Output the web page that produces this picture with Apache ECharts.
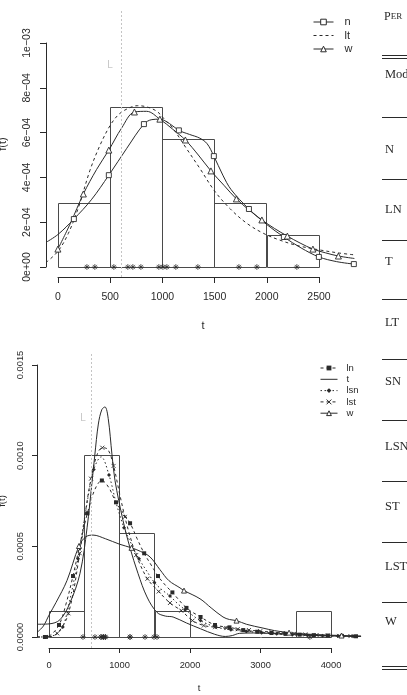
<!DOCTYPE html>
<html><head><meta charset="utf-8">
<script src="https://cdn.jsdelivr.net/npm/echarts@6/dist/echarts.min.js"></script>
<style>html,body{margin:0;padding:0;background:#fff;overflow:hidden}#c{width:407px;height:695px}</style>
</head><body><div id="c"></div>
<script>
// ================= TOP PANEL DATA =================
const topBreaks = [0, 500, 1000, 1500, 2000, 2500];
const topDensity = [2.857e-4, 7.143e-4, 5.714e-4, 2.857e-4, 1.429e-4];
const topRug = [278, 354, 536, 670, 718, 795, 967, 1006, 1044, 1130, 1341, 1734, 1906, 2289];
const topXTicks = [0, 500, 1000, 1500, 2000, 2500];
const topXLabels = ['0', '500', '1000', '1500', '2000', '2500'];
const topYTicks = [0, 2e-4, 4e-4, 6e-4, 8e-4, 1e-3];
const topYLabels = ['0e+00', '2e\u221204', '4e\u221204', '6e\u221204', '8e\u221204', '1e\u221203'];
const topL = 603;
const topLLabel = [500, 9.0e-4];
const topN = [[-114, 1.1e-4], [0, 1.45e-4], [153, 2.14e-4], [320, 3.0e-4], [488, 4.1e-4], [660, 5.3e-4], [824, 6.38e-4], [900, 6.58e-4], [977, 6.6e-4], [1070, 6.4e-4], [1159, 6.1e-4], [1260, 5.92e-4], [1360, 5.75e-4], [1430, 5.5e-4], [1494, 4.95e-4], [1580, 4.1e-4], [1660, 3.45e-4], [1830, 2.59e-4], [2000, 1.9e-4], [2165, 1.34e-4], [2330, 8.5e-5], [2500, 4.5e-5], [2670, 2.4e-5], [2835, 1.3e-5]];
const topNMarks = [153, 488, 824, 1159, 1494, 1830, 2165, 2500, 2835];
const topLt = [[-114, 2e-5], [0, 7e-5], [100, 1.5e-4], [200, 2.7e-4], [306, 4.3e-4], [400, 5.4e-4], [498, 6.3e-4], [580, 6.8e-4], [660, 7.05e-4], [760, 7.2e-4], [850, 7.15e-4], [948, 6.95e-4], [1020, 6.6e-4], [1100, 6.2e-4], [1230, 5.3e-4], [1360, 4.4e-4], [1500, 3.4e-4], [1650, 2.6e-4], [1810, 1.95e-4], [1970, 1.5e-4], [2126, 1.2e-4], [2300, 9.5e-5], [2510, 7.6e-5], [2700, 6.2e-5], [2845, 5.4e-5]];
const topW = [[0, 8e-5], [120, 1.95e-4], [244, 3.26e-4], [370, 4.35e-4], [488, 5.22e-4], [610, 6.2e-4], [733, 6.92e-4], [850, 6.95e-4], [977, 6.6e-4], [1100, 6.15e-4], [1221, 5.67e-4], [1345, 5.0e-4], [1466, 4.29e-4], [1590, 3.65e-4], [1710, 3.04e-4], [1830, 2.55e-4], [1954, 2.1e-4], [2075, 1.72e-4], [2198, 1.38e-4], [2320, 1.07e-4], [2443, 8.0e-5], [2565, 6.3e-5], [2687, 4.9e-5], [2840, 3.8e-5]];
const topWMarks = [0, 244, 488, 733, 977, 1221, 1466, 1710, 1954, 2198, 2443, 2687];

// ================= BOTTOM PANEL DATA =================
const botBreaks = [0, 500, 1000, 1500, 2000, 2500, 3000, 3500, 4000];
const botDensity = [1.43e-4, 1.0e-3, 5.71e-4, 1.43e-4, 0, 0, 0, 1.43e-4];
const botRug = [482, 652, 738, 738, 771, 771, 799, 799, 1149, 1149, 1362, 1489, 1532, 3700];
const botXTicks = [0, 1000, 2000, 3000, 4000];
const botXLabels = ['0', '1000', '2000', '3000', '4000'];
const botYTicks = [0, 5e-4, 1e-3, 1.5e-3];
const botYLabels = ['0.0000', '0.0005', '0.0010', '0.0015'];
const botL = 605;
const botLLabel = [482, 1.2e-3];
const botLn = [[-170, 0], [-58, 0], [0, 4e-6], [142, 6.6e-5], [240, 1.8e-4], [340, 3.35e-4], [440, 5.1e-4], [545, 6.8e-4], [650, 8.1e-4], [750, 8.6e-4], [850, 8.2e-4], [950, 7.4e-4], [1150, 6.25e-4], [1250, 5.4e-4], [1350, 4.6e-4], [1450, 3.95e-4], [1546, 3.35e-4], [1650, 2.85e-4], [1750, 2.45e-4], [1950, 1.6e-4], [2150, 1.1e-4], [2355, 6.6e-5], [2560, 5.3e-5], [2755, 3.8e-5], [2955, 2.9e-5], [3155, 2.2e-5], [3355, 1.7e-5], [3555, 1.3e-5], [3755, 1e-5], [3955, 8e-6], [4155, 6e-6], [4355, 4e-6], [4426, 3.5e-6]];
const botLnMarks = [-58, 142, 340, 545, 750, 950, 1150, 1350, 1546, 1750, 1950, 2150, 2355, 2560, 2755, 2955, 3155, 3355, 3555, 3755, 3955, 4155, 4355];
const botT = [[-170, 7e-5], [0, 7.2e-5], [156, 9.5e-5], [300, 1.9e-4], [440, 3.5e-4], [540, 6.0e-4], [610, 8.5e-4], [650, 1.0e-3], [700, 1.17e-3], [750, 1.25e-3], [794, 1.264e-3], [840, 1.2e-3], [894, 1.0e-3], [936, 8.6e-4], [1050, 6.4e-4], [1149, 4.9e-4], [1262, 3.5e-4], [1390, 2.2e-4], [1532, 1.35e-4], [1650, 1.15e-4], [1760, 1.1e-4], [1950, 7.7e-5], [2150, 4.5e-5], [2350, 1.5e-5], [2500, 3e-6], [2600, 8e-6], [2700, 2e-5], [2900, 2.2e-5], [3100, 2e-5], [3400, 1.4e-5], [3800, 8e-6], [4426, 3e-6]];
const botLsn = [[-170, 0], [-23, 1e-6], [100, 1.5e-5], [195, 5.5e-5], [300, 2.1e-4], [411, 4.3e-4], [520, 6.9e-4], [635, 9.2e-4], [740, 9.9e-4], [851, 8.9e-4], [950, 7.4e-4], [1064, 6.0e-4], [1170, 5.1e-4], [1277, 4.3e-4], [1390, 3.6e-4], [1495, 3.0e-4], [1600, 2.6e-4], [1716, 2.25e-4], [1820, 1.85e-4], [1930, 1.5e-4], [2150, 9e-5], [2365, 5.5e-5], [2580, 4.0e-5], [2800, 3.0e-5], [3015, 2.4e-5], [3230, 1.8e-5], [3450, 1.3e-5], [3665, 1e-5], [3880, 7e-6], [4100, 5e-6], [4315, 4e-6], [4426, 3.5e-6]];
const botLsnMarks = [-23, 195, 411, 635, 851, 1064, 1277, 1495, 1716, 1930, 2150, 2365, 2580, 2800, 3015, 3230, 3450, 3665, 3880, 4100, 4315];
const botLst = [[-170, 0], [-44, 0], [116, 2e-5], [276, 1.3e-4], [436, 4.6e-4], [530, 7.2e-4], [596, 8.7e-4], [680, 1.0e-3], [756, 1.04e-3], [836, 1.03e-3], [916, 9.4e-4], [1000, 7.9e-4], [1076, 6.6e-4], [1160, 5.4e-4], [1236, 4.5e-4], [1396, 3.2e-4], [1556, 2.5e-4], [1716, 1.87e-4], [1876, 1.45e-4], [2036, 9e-5], [2196, 6.3e-5], [2356, 5.4e-5], [2516, 4.9e-5], [2676, 4.3e-5], [2836, 3.8e-5], [2996, 3.2e-5], [3156, 2.7e-5], [3316, 2.2e-5], [3476, 1.8e-5], [3636, 1.4e-5], [3796, 1.1e-5], [3956, 8e-6], [4116, 6e-6], [4276, 5e-6], [4426, 4e-6]];
const botLstMarks = [-44, 116, 276, 436, 596, 756, 916, 1076, 1236, 1396, 1556, 1716, 1876, 2036, 2196, 2356, 2516, 2676, 2836, 2996, 3156, 3316, 3476, 3636, 3796, 3956, 4116, 4276];
const botW = [[-170, 2.5e-5], [-80, 6e-5], [0, 1.2e-4], [100, 1.9e-4], [255, 3.1e-4], [425, 5.0e-4], [520, 5.5e-4], [624, 5.6e-4], [800, 5.4e-4], [1000, 5.1e-4], [1170, 4.9e-4], [1300, 4.7e-4], [1433, 4.4e-4], [1574, 3.7e-4], [1700, 3.1e-4], [1858, 2.7e-4], [1915, 2.55e-4], [2142, 2.1e-4], [2300, 1.6e-4], [2468, 1.1e-4], [2560, 9.6e-5], [2660, 9e-5], [2800, 7e-5], [3035, 4.9e-5], [3200, 3.5e-5], [3405, 2.4e-5], [3700, 1.5e-5], [4150, 8e-6], [4426, 5e-6]];
const botWMarks = [425, 1170, 1915, 2660, 3405, 4150];

// ================= TABLE TEXT (cropped neighbour) =================
const tableHeader = 'PER';
const tableRows = ['Model', 'N', 'LN', 'T', 'LT', 'SN', 'LSN', 'ST', 'LST', 'W'];

// ================= BUILD =================
const INK = '#2a2a2a';
const SANS = 'Liberation Sans, Arial, sans-serif';
const SERIF = 'Liberation Serif, Times New Roman, serif';
const ASTER = 'path://M5,0L5,10M0,5L10,5M1.5,1.5L8.5,8.5M1.5,8.5L8.5,1.5';
const CROSS = 'path://M0,0L10,10M0,10L10,0';

function curveData(pts, marks) {
  const s = new Set(marks || []);
  return pts.map(p => s.has(p[0]) ? { value: p } : { value: p, symbol: 'none' });
}
function histData(b, d) { return d.map((v, i) => [b[i], b[i + 1], v]); }
function labeler(ticks, labels) {
  return v => { let k = 0; ticks.forEach((t, i) => { if (Math.abs(t - v) < Math.abs(ticks[k] - v)) k = i; }); return labels[k]; };
}
function hist(idx, b, d) {
  return {
    type: 'custom', xAxisIndex: idx, yAxisIndex: idx, data: histData(b, d), silent: true, z: 1,
    renderItem(params, api) {
      const p0 = api.coord([api.value(0), 0]);
      const p1 = api.coord([api.value(1), api.value(2)]);
      return { type: 'rect', shape: { x: Math.round(p0[0]) + 0.5, y: Math.round(p1[1]) + 0.5, width: Math.round(p1[0] - p0[0]), height: Math.round(p0[1] - p1[1]) },
        style: { fill: 'none', stroke: '#4a4a4a', lineWidth: 1 } };
    }
  };
}
function line(name, idx, pts, marks, symbol, size, itemStyle, dash) {
  return {
    type: 'line', name, xAxisIndex: idx, yAxisIndex: idx, data: curveData(pts, marks),
    symbol: symbol || 'none', symbolSize: size || 5, showSymbol: true, smooth: 0.35,
    lineStyle: { color: INK, width: 1, type: dash || 'solid' },
    itemStyle: itemStyle || { color: INK }, emphasis: { disabled: true }, z: 3, silent: true
  };
}
function rug(idx, vals, L) {
  return {
    type: 'scatter', xAxisIndex: idx, yAxisIndex: idx, data: vals.map(v => [v, 0]),
    symbol: ASTER, symbolSize: 6, itemStyle: { color: 'none', borderColor: INK, borderWidth: 0.9 }, silent: true, z: 4,
    markLine: { silent: true, symbol: ['none', 'none'], label: { show: false },
      lineStyle: { color: '#c4c4c4', type: [2, 2], width: 1 }, data: [{ xAxis: L }] }
  };
}
function lLabel(idx, pos) {
  return { type: 'scatter', xAxisIndex: idx, yAxisIndex: idx, data: [pos], symbolSize: 1,
    itemStyle: { color: 'transparent' }, silent: true,
    label: { show: true, position: 'inside', formatter: 'L', color: '#b8b8b8', fontSize: 10, fontFamily: SANS } };
}
function hiddenAxis(grid, min, max) { return { gridIndex: grid, type: 'value', show: false, min, max }; }
function bareAxis(grid, min, max) {
  return { gridIndex: grid, type: 'value', min, max, axisLine: { show: false }, axisTick: { show: false }, axisLabel: { show: false }, splitLine: { show: false } };
}

const openSq = { color: '#fff', borderColor: INK, borderWidth: 0.9 };

const option = {
  animation: false,
  backgroundColor: '#fff',
  grid: [
    { left: 46, top: 11, width: 314, height: 266, outerBoundsMode: 'none' },
    { left: 58, top: 272, width: 261, height: 5, outerBoundsMode: 'none' },
    { left: 46, top: 43, width: 5, height: 224, outerBoundsMode: 'none' },
    { left: 37, top: 354, width: 324, height: 294, outerBoundsMode: 'none' },
    { left: 49, top: 643, width: 282, height: 5, outerBoundsMode: 'none' },
    { left: 37, top: 365, width: 5, height: 272, outerBoundsMode: 'none' }
  ],
  xAxis: [
    bareAxis(0, -114, 2894),
    { gridIndex: 1, type: 'value', min: topXTicks[0], max: topXTicks[topXTicks.length - 1], interval: topXTicks[1] - topXTicks[0],
      axisLine: { show: true, onZero: false, lineStyle: { color: INK, width: 1 } }, axisTick: { show: true, length: 6, lineStyle: { color: INK } },
      axisLabel: { margin: 15, fontFamily: SANS, fontSize: 10.5, color: INK, formatter: labeler(topXTicks, topXLabels) }, splitLine: { show: false } },
    hiddenAxis(2, 0, 1),
    bareAxis(3, -170.2, 4425.5),
    { gridIndex: 4, type: 'value', min: botXTicks[0], max: botXTicks[botXTicks.length - 1], interval: botXTicks[1] - botXTicks[0],
      axisLine: { show: true, onZero: false, lineStyle: { color: INK, width: 1 } }, axisTick: { show: true, length: 5, lineStyle: { color: INK } },
      axisLabel: { margin: 13, fontFamily: SANS, fontSize: 9.3, color: INK, formatter: labeler(botXTicks, botXLabels) }, splitLine: { show: false } },
    hiddenAxis(5, 0, 1)
  ],
  yAxis: [
    bareAxis(0, -4.464e-5, 1.1429e-3),
    hiddenAxis(1, 0, 1),
    { gridIndex: 2, type: 'value', position: 'left', min: topYTicks[0], max: topYTicks[topYTicks.length - 1], interval: topYTicks[1] - topYTicks[0],
      axisLine: { show: true, onZero: false, lineStyle: { color: INK, width: 1 } }, axisTick: { show: true, inside: false, length: 6, lineStyle: { color: INK } },
      axisLabel: { rotate: 90, margin: 13, fontFamily: SANS, fontSize: 10.5, color: INK, formatter: labeler(topYTicks, topYLabels) }, splitLine: { show: false } },
    bareAxis(3, -6.044e-5, 1.555e-3),
    hiddenAxis(4, 0, 1),
    { gridIndex: 5, type: 'value', position: 'left', min: botYTicks[0], max: botYTicks[botYTicks.length - 1], interval: botYTicks[1] - botYTicks[0],
      axisLine: { show: true, onZero: false, lineStyle: { color: INK, width: 1 } }, axisTick: { show: true, length: 5, lineStyle: { color: INK } },
      axisLabel: { rotate: 90, margin: 12, fontFamily: SANS, fontSize: 9.3, color: INK, formatter: labeler(botYTicks, botYLabels) }, splitLine: { show: false } }
  ],
  legend: [
    { data: [{ name: 'n' }, { name: 'lt', itemStyle: { opacity: 0 } }, { name: 'w' }],
      orient: 'vertical', left: 313, top: 16, padding: 0, itemWidth: 20, itemHeight: 7, itemGap: 1.5, selectedMode: false,
      itemStyle: { borderWidth: 1 }, lineStyle: { width: 1 },
      textStyle: { fontFamily: SANS, fontSize: 11, color: INK, lineHeight: 12, padding: [0, 0, 0, 6] } },
    { data: [{ name: 'ln' }, { name: 't', itemStyle: { opacity: 0 } }, { name: 'lsn' }, { name: 'lst' }, { name: 'w2' }],
      orient: 'vertical', left: 320, top: 363, padding: 0, itemWidth: 17, itemHeight: 6, itemGap: 1.3, selectedMode: false,
      itemStyle: { borderWidth: 1 }, lineStyle: { width: 1 }, formatter: n => n.replace('2', ''),
      textStyle: { fontFamily: SANS, fontSize: 9.5, color: INK, lineHeight: 10, padding: [0, 0, 0, 4] } }
  ],
  series: [
    hist(0, topBreaks, topDensity),
    rug(0, topRug, topL),
    lLabel(0, topLLabel),
    line('n', 0, topN, topNMarks, 'rect', 5, openSq),
    line('lt', 0, topLt, [], 'none', 5, { color: INK }, [3, 3]),
    line('w', 0, topW, topWMarks, 'triangle', 6, openSq),

    hist(3, botBreaks, botDensity),
    rug(3, botRug, botL),
    lLabel(3, botLLabel),
    line('ln', 3, botLn, botLnMarks, 'rect', 4, { color: INK }, [3, 3]),
    line('t', 3, botT, [], 'none', 4, { color: INK }),
    line('lsn', 3, botLsn, botLsnMarks, 'diamond', 4, { color: INK }, [1.5, 2.5]),
    line('lst', 3, botLst, botLstMarks, CROSS, 4, { color: 'none', borderColor: INK, borderWidth: 0.9 }, [3, 3]),
    line('w2', 3, botW, botWMarks, 'triangle', 5, openSq)
  ],
  graphic: { elements: [] }
};

const G = option.graphic.elements;
// axis titles
G.push({ type: 'text', x: 203, y: 326, style: { text: 't', fontFamily: SANS, fontSize: 11, fill: INK, align: 'center', verticalAlign: 'middle' } });
G.push({ type: 'text', x: 199, y: 688, style: { text: 't', fontFamily: SANS, fontSize: 9.5, fill: INK, align: 'center', verticalAlign: 'middle' } });
G.push({ type: 'text', x: 3, y: 144, rotation: Math.PI / 2, style: { text: 'f(t)', fontFamily: SANS, fontSize: 11, fill: INK, align: 'center', verticalAlign: 'middle' } });
G.push({ type: 'text', x: 2, y: 501, rotation: Math.PI / 2, style: { text: 'f(t)', fontFamily: SANS, fontSize: 9.5, fill: INK, align: 'center', verticalAlign: 'middle' } });

// table text on the right (cropped neighbouring table)
const tRowY = [75, 150, 210, 262, 323, 382, 447, 507, 567, 622];
const tRuleY = [117, 179, 240, 299, 359, 420, 481, 542, 602];
G.push({ type: 'text', x: 384, y: 17, style: { text: '{a|' + tableHeader[0] + '}{b|' + tableHeader.slice(1) + '}', verticalAlign: 'middle', rich: { a: { fontFamily: SERIF, fontSize: 12, fill: INK }, b: { fontFamily: SERIF, fontSize: 9, fill: INK } } } });
[55, 58, 666, 669].forEach(y => G.push({ type: 'line', shape: { x1: 382, y1: y + 0.5, x2: 407, y2: y + 0.5 }, style: { stroke: INK, lineWidth: 1 } }));
tRuleY.forEach(y => G.push({ type: 'line', shape: { x1: 382, y1: y + 0.5, x2: 407, y2: y + 0.5 }, style: { stroke: INK, lineWidth: 1 } }));
tableRows.forEach((s, i) => G.push({ type: 'text', x: 385, y: tRowY[i], style: { text: s, fontFamily: SERIF, fontSize: 12.5, fill: INK, verticalAlign: 'middle' } }));

const chart = echarts.init(document.getElementById('c'), null, { renderer: 'canvas' });
chart.setOption(option);
</script>
</body></html>
